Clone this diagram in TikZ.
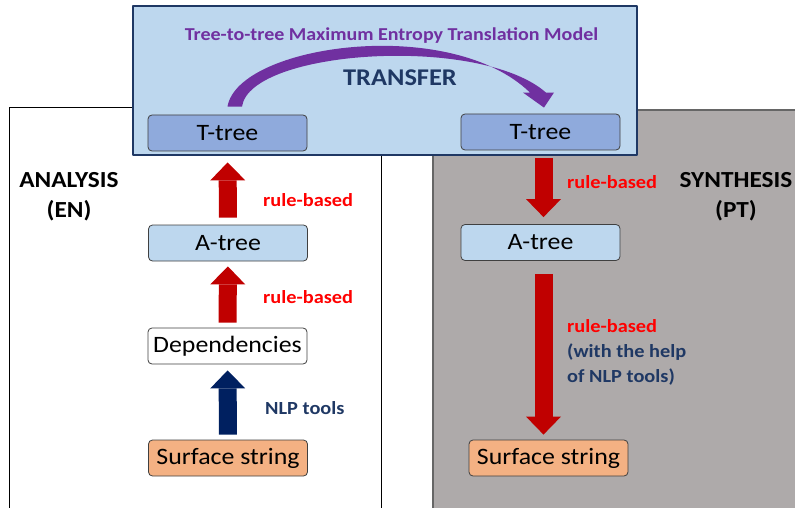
\documentclass[tikz,border=0pt]{standalone}
\usepackage{fontspec}
\setmainfont{Carlito}[FakeStretch=1.1]
\usetikzlibrary{arrows.meta}
\usetikzlibrary{positioning}
\usetikzlibrary{calc}
\definecolor{paleblue}{HTML}{BDD7EE}
\definecolor{treeblue}{HTML}{8FAADC}
\definecolor{peach}{HTML}{F4B183}
\definecolor{panelgray}{HTML}{AEAAAA}
\definecolor{edgegray}{HTML}{404040}
\definecolor{darkred}{HTML}{C00000}
\definecolor{navy}{HTML}{002060}
\definecolor{textnavy}{HTML}{1F3864}
\definecolor{xferpurple}{HTML}{7030A0}
\begin{document}
\begin{tikzpicture}[x=1pt,y=-1pt,line join=round,
  box/.style={draw=edgegray,line width=0.8pt,rounded corners=4pt,minimum width=159pt,minimum height=36pt,inner sep=0pt,font=\fontsize{23.5}{28}\selectfont},
  blkred/.style={draw=darkred,line width=18pt,-{Triangle[width=35pt,length=18pt,line width=0pt]}},
  blknavy/.style={blkred,draw=navy},
  lab/.style={font=\bfseries\fontsize{18.5}{25}\selectfont,anchor=west,align=left,inner sep=0pt},
  side/.style={font=\bfseries\fontsize{23}{30}\selectfont,align=center,inner sep=0pt}]
\useasboundingbox (0,0) rectangle (795,508);
\clip (0,0) rectangle (795,508);
% panels
\draw[line width=1pt] (9,108) rectangle (381,520);
\draw[fill=panelgray,draw=edgegray!80,line width=1.2pt] (433,110) rectangle (810,520);
\draw[fill=paleblue,draw=textnavy,line width=1.8pt] (133,6) rectangle (637,155);
% trees
\node[box,fill=treeblue] (tl) at (227.5,133) {T-tree};
\node[box,fill=treeblue] (tr) at (540.5,132) {T-tree};
\node[box,fill=paleblue] (al) at (228,243) {A-tree};
\node[box,fill=paleblue] (ar) at (540.5,242.5) {A-tree};
\node[box,fill=white] (dep) at (227.5,346) {Dependencies};
\node[box,fill=peach] (sl) at (228,458) {Surface string};
\node[box,fill=peach] (sr) at (548.5,458) {Surface string};
% texts
\node[font=\bfseries\fontsize{18.2}{20}\selectfont,text=xferpurple] (model) at (391.5,36) {Tree-to-tree Maximum Entropy Translation Model};
\node[font=\bfseries\fontsize{24}{28}\selectfont,text=textnavy] (xfer) at (400,78) {TRANSFER};
\node[side] (ana) at (69,197) {ANALYSIS\\(EN)};
\node[side] (syn) at (736,197) {SYNTHESIS\\(PT)};
\node[lab,text=red] (r1) at (263,200) {rule-based};
\node[lab,text=red] (r2) at (263,297) {rule-based};
\node[lab,text=textnavy] (nlp) at (265,408) {NLP tools};
\node[lab,text=red] (r3) at (567,182) {rule-based};
\node[lab,text=textnavy] (r4) at (567,352) {\textcolor{red}{rule-based}\\(with the help\\of NLP tools)};
% arrows
\draw[blkred,shorten <=7pt,shorten >=11pt] (al) -- (tl);
\draw[blkred,shorten <=5pt,shorten >=5pt] (dep) -- (al);
\draw[blknavy,shorten <=5pt,shorten >=6pt] (sl) -- (dep);
\draw[blkred,shorten <=8pt,shorten >=7pt] ([xshift=3pt]tr.south) -- ([xshift=3pt]ar.north);
\draw[blkred,shorten <=13pt,shorten >=5pt] ([xshift=3pt]ar.south) -- ([xshift=3pt]ar.south |- sr.north);
\fill[xferpurple] ($(tl.north)+(0,-8)$) .. controls +(10.5,-62) and +(-80,-78) .. ($(tr.north)+(-10.5,-21)$)
  -- ($(tr.north)+(-17.5,-21)$) -- ($(tr.north)+(3.5,-6)$) -- ($(tr.north)+(13.5,-21)$)
  -- ($(tr.north)+(5.5,-21)$) .. controls +(-66,-58) and +(8,-57) .. ($(tl.north)+(14.5,-8)$) -- cycle;
\end{tikzpicture}
\end{document}
